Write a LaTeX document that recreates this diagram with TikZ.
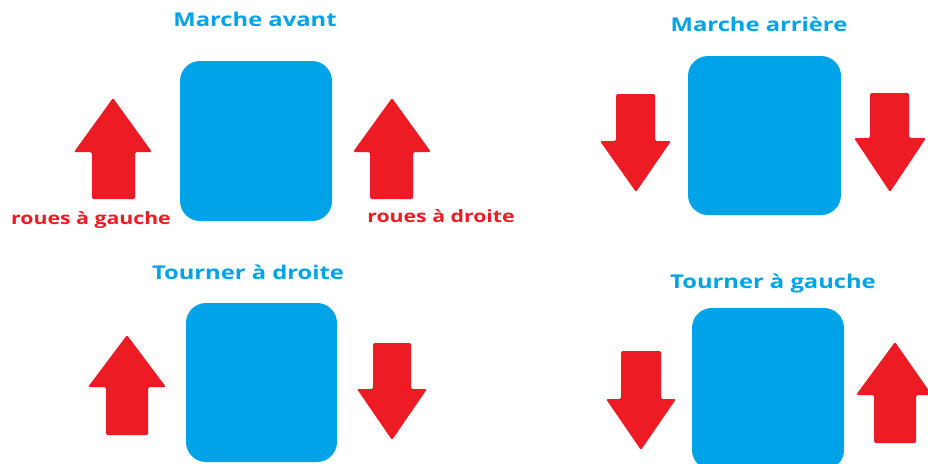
\documentclass[tikz,border=0pt]{standalone}
\usepackage{fontspec}
\setmainfont{Open Sans}
\newfontfamily\widesans[FakeStretch=1.25]{Open Sans}
\definecolor{robotblue}{HTML}{00A2E8}
\definecolor{wheelred}{HTML}{ED1C24}
% thick arrow pointing up: shaft left/right, head left/right, tip x, tip y, head base y, shaft bottom y
\newcommand{\arrowup}[8]{%
  \fill[wheelred, rounded corners=1.5pt]
    (#1,#8) -- (#1,#7) -- (#3,#7) -- (#5,#6) -- (#4,#7) -- (#2,#7) -- (#2,#8) -- cycle;}
% thick arrow pointing down: shaft left/right, head left/right, tip x, tip y, head base y, shaft top y
\newcommand{\arrowdown}[8]{%
  \fill[wheelred, rounded corners=1.5pt]
    (#1,#8) -- (#1,#7) -- (#3,#7) -- (#5,#6) -- (#4,#7) -- (#2,#7) -- (#2,#8) -- cycle;}
\begin{document}
\begin{tikzpicture}[x=1pt, y=-1pt,
  title/.style={font=\widesans\fontsize{19}{21}\selectfont\bfseries, text=robotblue, inner sep=0pt, anchor=base},
  wheellabel/.style={font=\widesans\fontsize{17}{19}\selectfont\bfseries, text=wheelred, inner sep=0pt, anchor=base},
  body/.style={fill=robotblue, rounded corners=20pt}]
\useasboundingbox (0,0) rectangle (928,463);
\fill[white] (0,0) rectangle (928,463);

% Marche avant
\node[title] (t1) at (255,27) {Marche avant};
\fill[body] (180,61) rectangle (332,221);
\arrowup{92}{135}{74}{152}{113}{98}{152}{199}
\arrowup{370}{413}{353}{431}{392}{98}{152}{199}
\node[wheellabel] (lg) at (91,224) {roues à gauche};
\node[wheellabel] (ld) at (441,222) {roues à droite};

% Marche arriere
\node[title] (t2) at (759,31) {Marche arrière};
\fill[body] (688,56) rectangle (841,215);
\arrowdown{616}{655}{600}{671}{636}{192}{141}{94}
\arrowdown{870}{909}{854}{926}{890}{192}{138}{93}

% Tourner a droite
\node[title] (t3) at (248,279) {Tourner à droite};
\fill[body] (186,303) rectangle (337,462);
\arrowup{106}{148}{88}{166}{127}{335}{387}{435}
\arrowdown{373}{411}{357}{427}{392}{440}{389}{343}

% Tourner a gauche
\node[title] (t4) at (773,288) {Tourner à gauche};
\fill[body] (692,308) rectangle (844,470);
\arrowdown{621}{661}{606}{676}{641}{450}{399}{351}
\arrowup{874}{916}{856}{932}{895}{342}{395}{443}
\end{tikzpicture}
\end{document}
